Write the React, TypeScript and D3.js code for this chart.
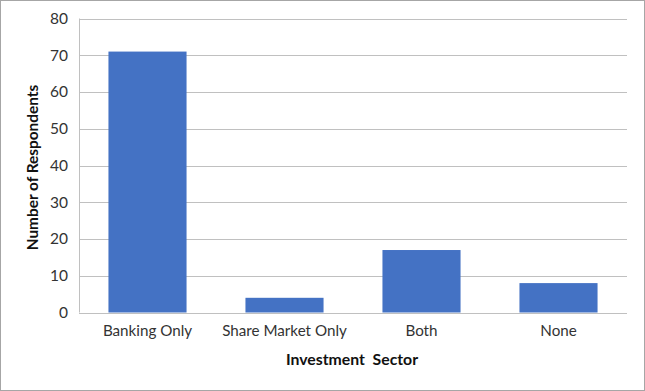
import React from "react";
import * as d3 from "d3";

const categories = ["Banking Only", "Share Market Only", "Both", "None"];
const values = [71, 4, 17, 8];
const yTicks = [0, 10, 20, 30, 40, 50, 60, 70, 80];
const xTitle = "Investment\u00a0\u00a0Sector";
const yTitle = "Number of Respondents";

export default function App() {
  const W = 645, H = 391;
  const left = 79, right = 627, top = 18.5, bottom = 312.5;
  const x = d3.scaleBand<string>().domain(categories).range([left, right]).paddingInner(0.43).paddingOuter(0.215);
  const y = d3.scaleLinear().domain([0, 80]).range([bottom, top]);
  const font = "Lato, 'Open Sans', sans-serif";
  return (
    <svg width={W} height={H} style={{ position: "absolute", left: 0, top: 0, display: "block" }}>
      <rect x={0} y={0} width={W} height={H} fill="#fff" />
      <rect x={0.5} y={0.5} width={W - 1} height={H - 1} fill="none" stroke="#a6a6a6" strokeWidth={1} />
      {yTicks.map((t) => (
        <g key={t}>
          <line x1={left} x2={right} y1={Math.round(y(t)) + 0.5} y2={Math.round(y(t)) + 0.5} stroke="#c0c0c0" strokeWidth={1} />
          <text x={68} y={y(t)} dy="0.35em" textAnchor="end" fontFamily={font} fontSize={15.5} fill="#333">{t}</text>
        </g>
      ))}
      <line x1={left + 0.5} x2={left + 0.5} y1={top} y2={bottom} stroke="#c0c0c0" />
      {categories.map((c, i) => (
        <rect key={c} x={x(c)} y={y(values[i])} width={x.bandwidth()} height={bottom - y(values[i])} fill="#4472C4" />
      ))}
      {categories.map((c) => (
        <text key={c} x={(x(c) as number) + x.bandwidth() / 2} y={331} dy="0.35em" textAnchor="middle" fontFamily={font} fontSize={15.2} fill="#333">{c}</text>
      ))}
      <text x={352} y={359} dy="0.35em" textAnchor="middle" fontFamily={font} fontSize={15.8} fontWeight="bold" fill="#111">{xTitle}</text>
      <text transform={`translate(33,${(top + bottom) / 2 + 2}) rotate(-90)`} textAnchor="middle" dy="0.35em" fontFamily={font} fontSize={15.4} fontWeight="bold" fill="#111">{yTitle}</text>
    </svg>
  );
}
